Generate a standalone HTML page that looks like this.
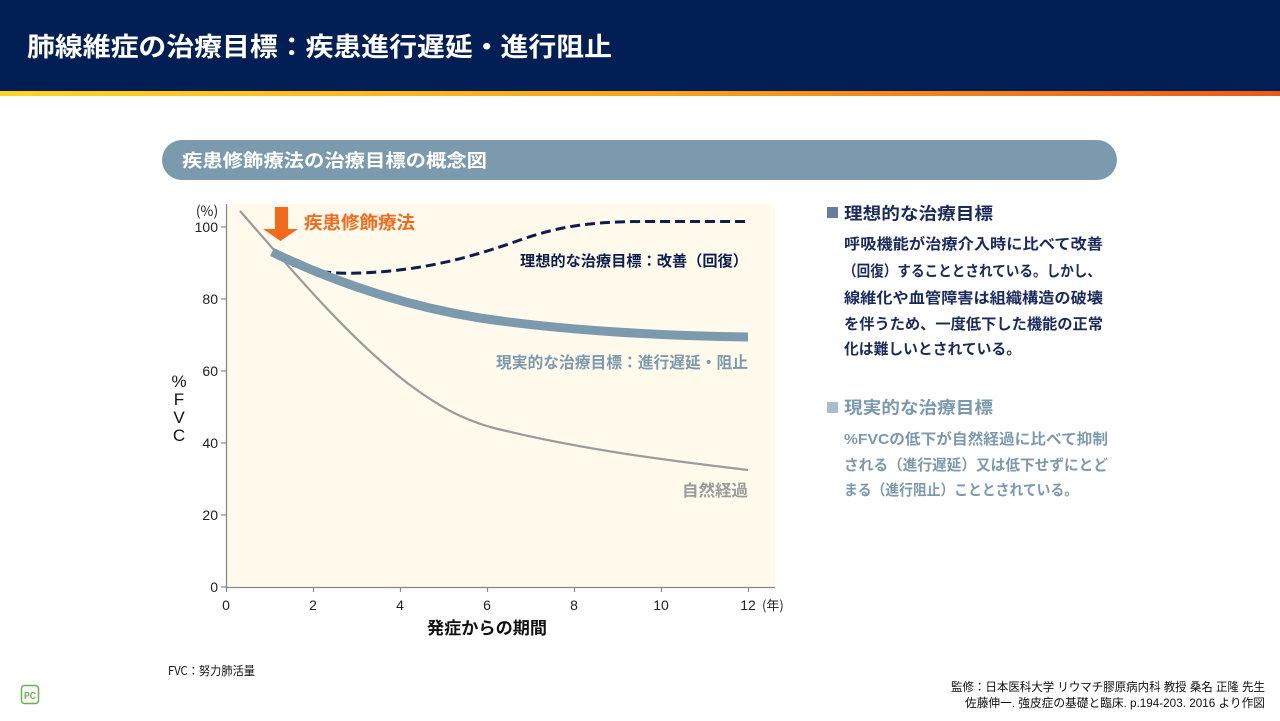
<!DOCTYPE html>
<html><head><meta charset="utf-8">
<style>
html,body{margin:0;padding:0;background:#fff;}
svg{display:block;}
text{font-family:"Liberation Sans","Noto Sans CJK JP",sans-serif;}
.j{font-family:"Noto Sans CJK JP","Liberation Sans",sans-serif;}
</style></head>
<body>
<svg width="1280" height="721" viewBox="0 0 1280 721" xmlns="http://www.w3.org/2000/svg">
<defs>
<linearGradient id="stripe" x1="0" y1="0" x2="1" y2="0">
<stop offset="0" stop-color="#ffd41f"/>
<stop offset="0.5" stop-color="#f8a51c"/>
<stop offset="1" stop-color="#ed5a17"/>
</linearGradient>
</defs>
<!-- header -->
<rect x="0" y="0" width="1280" height="91" fill="#011e55"/>
<rect x="0" y="91" width="1280" height="5" fill="url(#stripe)"/>
<text class="j" x="27" y="56" font-size="26" font-weight="700" fill="#fff" textLength="585" lengthAdjust="spacingAndGlyphs">肺線維症の治療目標：疾患進行遅延・進行阻止</text>

<!-- pill -->
<rect x="162" y="140" width="955" height="40" rx="20" fill="#7b9aad"/>
<text class="j" x="182" y="167" font-size="18" font-weight="700" fill="#fff" textLength="305" lengthAdjust="spacingAndGlyphs">疾患修飾療法の治療目標の概念図</text>

<!-- plot background -->
<rect x="226" y="204" width="549" height="383" fill="#fffaec"/>

<!-- axes -->
<line x1="226.5" y1="204" x2="226.5" y2="587" stroke="#888" stroke-width="1.3"/>
<line x1="226" y1="587.5" x2="775" y2="587.5" stroke="#888" stroke-width="1.3"/>
<g stroke="#888" stroke-width="1.2">
<line x1="221" y1="227" x2="226" y2="227"/>
<line x1="221" y1="299" x2="226" y2="299"/>
<line x1="221" y1="371" x2="226" y2="371"/>
<line x1="221" y1="443" x2="226" y2="443"/>
<line x1="221" y1="515" x2="226" y2="515"/>
<line x1="221" y1="587" x2="226" y2="587"/>
<line x1="226.5" y1="587" x2="226.5" y2="592"/>
<line x1="313.5" y1="587" x2="313.5" y2="592"/>
<line x1="400.5" y1="587" x2="400.5" y2="592"/>
<line x1="487.5" y1="587" x2="487.5" y2="592"/>
<line x1="574.5" y1="587" x2="574.5" y2="592"/>
<line x1="661.5" y1="587" x2="661.5" y2="592"/>
<line x1="748.5" y1="587" x2="748.5" y2="592"/>
</g>
<g font-size="14" fill="#222" text-anchor="end">
<text x="218" y="232">100</text>
<text x="218" y="304">80</text>
<text x="218" y="376">60</text>
<text x="218" y="448">40</text>
<text x="218" y="520">20</text>
<text x="218" y="592">0</text>
</g>
<text class="j" x="207" y="216" font-size="14" fill="#222" text-anchor="middle">(%)</text>
<g font-size="14" fill="#222" text-anchor="middle">
<text x="226" y="610">0</text>
<text x="313" y="610">2</text>
<text x="400" y="610">4</text>
<text x="487" y="610">6</text>
<text x="574" y="610">8</text>
<text x="661" y="610">10</text>
<text x="748" y="610">12</text>
</g>
<text class="j" x="762" y="610" font-size="13" fill="#222">(年)</text>
<g font-size="17" fill="#111" text-anchor="middle">
<text x="179" y="387">%</text>
<text x="179" y="405">F</text>
<text x="179" y="423">V</text>
<text x="179" y="441">C</text>
</g>
<text class="j" x="487" y="634" font-size="17" font-weight="700" fill="#111" text-anchor="middle" textLength="120" lengthAdjust="spacingAndGlyphs">発症からの期間</text>

<!-- series -->
<path d="M240,211 C290,268 350,340 410,385 C440,407 460,418 490,427 C580,450 680,462 748,470" fill="none" stroke="#9b9b9b" stroke-width="2.2"/>
<path d="M292,265 C315,272 335,274 360,273 C420,271 470,258 520,240 C560,226 590,222 640,221.5 L748,221.5" fill="none" stroke="#0b1f4f" stroke-width="3" stroke-dasharray="10 5"/>
<path d="M272,252 C330,280 400,305 480,318 C560,330 660,336 748,337" fill="none" stroke="#7b9aad" stroke-width="9"/>

<!-- arrow -->
<rect x="275" y="207" width="13" height="23" fill="#f26b1d"/>
<polygon points="263,229 298,229 280.5,241" fill="#f26b1d"/>

<!-- chart labels -->
<text class="j" x="304" y="229" font-size="18" font-weight="700" fill="#f26b1d" textLength="111" lengthAdjust="spacingAndGlyphs">疾患修飾療法</text>
<text class="j" x="520" y="266" font-size="15" font-weight="700" fill="#0b1f4f" textLength="228" lengthAdjust="spacingAndGlyphs">理想的な治療目標：改善（回復）</text>
<text class="j" x="496" y="368" font-size="16" font-weight="700" fill="#7b9aad" textLength="252" lengthAdjust="spacingAndGlyphs">現実的な治療目標：進行遅延・阻止</text>
<text class="j" x="682" y="496" font-size="16" font-weight="700" fill="#9b9b9b" textLength="66" lengthAdjust="spacingAndGlyphs">自然経過</text>

<!-- right panel 1 -->
<rect x="827" y="207" width="11" height="11" fill="#667da2"/>
<text class="j" x="844" y="219.5" font-size="17" font-weight="700" fill="#1b2a5c" textLength="149" lengthAdjust="spacingAndGlyphs">理想的な治療目標</text>
<g class="j" font-size="15" font-weight="700" fill="#1b2a5c">
<text x="844" y="249" textLength="259" lengthAdjust="spacingAndGlyphs">呼吸機能が治療介入時に比べて改善</text>
<text x="843" y="276" textLength="258" lengthAdjust="spacingAndGlyphs">（回復）することとされている。しかし、</text>
<text x="844" y="303" textLength="259" lengthAdjust="spacingAndGlyphs">線維化や血管障害は組織構造の破壊</text>
<text x="844" y="329" textLength="259" lengthAdjust="spacingAndGlyphs">を伴うため、一度低下した機能の正常</text>
<text x="844" y="354" textLength="177" lengthAdjust="spacingAndGlyphs">化は難しいとされている。</text>
</g>

<!-- right panel 2 -->
<rect x="827" y="402" width="11" height="11" fill="#a9bccb"/>
<text class="j" x="844" y="413.5" font-size="17" font-weight="700" fill="#7b9aad" textLength="149" lengthAdjust="spacingAndGlyphs">現実的な治療目標</text>
<g class="j" font-size="15" font-weight="700" fill="#7b9aad">
<text x="844" y="444" textLength="264" lengthAdjust="spacingAndGlyphs">%FVCの低下が自然経過に比べて抑制</text>
<text x="844" y="470" textLength="264" lengthAdjust="spacingAndGlyphs">される（進行遅延）又は低下せずにとど</text>
<text x="844" y="495" textLength="234" lengthAdjust="spacingAndGlyphs">まる（進行阻止）こととされている。</text>
</g>

<!-- footnote -->
<text class="j" x="168" y="675" font-size="12" fill="#111" textLength="87" lengthAdjust="spacingAndGlyphs">FVC：努力肺活量</text>
<rect x="21.5" y="685.5" width="17" height="18" rx="3" fill="#fff" stroke="#6ab04c" stroke-width="1.5"/>
<text x="30" y="699" font-size="10" font-weight="700" fill="#6ab04c" text-anchor="middle" textLength="12" lengthAdjust="spacingAndGlyphs">PC</text>
<g class="j" font-size="12" fill="#111" text-anchor="end">
<text x="1265" y="691" textLength="314" lengthAdjust="spacingAndGlyphs">監修：日本医科大学 リウマチ膠原病内科 教授 桑名 正隆 先生</text>
<text x="1265" y="707" textLength="300" lengthAdjust="spacingAndGlyphs">佐藤伸一. 強皮症の基礎と臨床. p.194-203. 2016 より作図</text>
</g>
</svg>
</body></html>
